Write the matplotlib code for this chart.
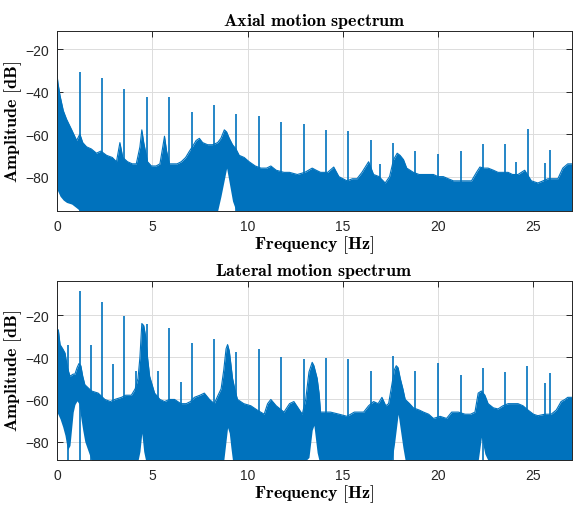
import numpy as np
import matplotlib.pyplot as plt

plt.rcParams['mathtext.fontset'] = 'cm'
plt.rcParams['font.family'] = ['Liberation Sans', 'DejaVu Sans']

blue = '#0072BD'

# axial spectrum: noise band (upper / lower edge) in dB
ax_freq = [0.0, 0.05, 0.16, 0.33, 0.5, 0.77, 1.03, 1.2, 1.35, 1.55, 1.8, 2.07, 2.3, 2.6, 2.9,
           3.12, 3.3, 3.45, 3.7, 3.95, 4.16, 4.35, 4.45, 4.55, 4.75, 4.95, 5.2, 5.4, 5.55, 5.64,
           5.75, 5.9, 6.08, 6.3, 6.52, 6.75, 6.95, 7.1, 7.3, 7.47, 7.64, 7.9, 8.17, 8.43, 8.6,
           8.78, 8.9, 9.04, 9.21, 9.39, 9.56, 9.82, 10.08, 10.4, 10.7, 11.0, 11.22, 11.5, 11.91,
           12.2, 12.61, 13.0, 13.39, 13.6, 13.83, 14.2, 14.52, 14.79, 15.0, 15.22, 15.5, 15.74,
           16.0, 16.35, 16.61, 16.9, 17.22, 17.45, 17.66, 17.85, 18.0, 18.18, 18.35, 18.7, 19.0,
           19.23, 19.5, 19.75, 20.0, 20.27, 20.53, 20.8, 21.06, 21.4, 21.75, 22.01, 22.19, 22.4,
           22.62, 22.9, 23.14, 23.4, 23.67, 23.9, 24.19, 24.54, 24.89, 25.23, 25.5, 25.76, 26.0,
           26.28, 26.54, 26.8, 27.0]
ax_upper = [-32, -36, -42, -49, -53, -58, -63, -60, -64, -66, -67, -69, -68, -70, -71,
            -73, -64, -71, -73, -74, -74, -66, -58, -64, -73, -75, -75, -74, -66, -61,
            -68, -74, -74, -74, -73, -71, -68, -66, -63, -62, -64, -65, -65, -64, -62,
            -58, -59, -62, -65, -67, -70, -71, -73, -75, -76, -76, -75, -77, -78,
            -78, -79, -78, -76, -77, -78, -78, -75.5, -80, -81, -82, -81, -81,
            -78, -73, -79, -80, -83, -80, -72, -69, -70, -72, -76, -78, -79,
            -79, -79, -79, -80, -80, -81, -82, -82, -82, -82, -78, -75.5, -76,
            -76, -77, -78, -78, -78, -79, -79, -77, -82, -83, -82, -81, -81,
            -81, -76, -74, -74]
ax_lower_freq = [0.0, 0.2, 0.45, 0.8, 1.2, 8.45, 8.9, 9.3, 27.0]
ax_lower = [-86, -90, -92, -93, -96, -96, -76, -96, -96]

# axial spectrum: narrow peaks
ax_peak_freq = [0.02, 1.20, 2.35, 3.54, 4.70, 5.90, 7.07, 8.24, 9.40, 10.59, 11.76, 12.96,
                14.12, 15.29, 16.46, 16.96, 17.64, 18.81, 20.01, 21.18, 22.35, 23.51, 24.07,
                24.71, 25.60, 25.88]
ax_peak_db = [-16, -30.6, -33.8, -38.8, -42.7, -42.7, -49.7, -46.3, -50.4, -51.3, -54.3, -55.2,
              -58.0, -58.6, -62.7, -74, -64.3, -67.9, -69.3, -67.9, -64.7, -64.7, -73,
              -57.4, -73.7, -67.4]

# lateral spectrum: noise band
lat_freq = [0.0, 0.07, 0.16, 0.3, 0.42, 0.55, 0.68, 0.85, 0.94, 1.05, 1.15, 1.25, 1.35, 1.46,
            1.81, 2.16, 2.51, 2.8, 3.03, 3.38, 3.6, 3.9, 4.1, 4.25, 4.35, 4.45, 4.55, 4.65,
            4.75, 4.86, 5.12, 5.4, 5.64, 5.9, 6.17, 6.5, 6.78, 7.0, 7.21, 7.5, 7.73, 8.0, 8.25,
            8.45, 8.61, 8.75, 8.87, 8.95, 9.04, 9.12, 9.21, 9.35, 9.47, 9.8, 10.17, 10.5, 10.87,
            11.05, 11.22, 11.5, 11.91, 12.2, 12.43, 12.65, 12.87, 13.05, 13.22, 13.39, 13.48,
            13.65, 13.75, 13.83, 14.1, 14.35, 14.8, 15.22, 15.6, 16.09, 16.35, 16.61, 16.85,
            17.05, 17.25, 17.4, 17.57, 17.7, 17.8, 17.9, 18.01, 18.15, 18.27, 18.5, 18.7, 19.0,
            19.23, 19.5, 19.75, 20.1, 20.44, 20.71, 21.06, 21.41, 21.7, 21.93, 22.1, 22.27,
            22.45, 22.62, 22.9, 23.14, 23.4, 23.67, 23.9, 24.19, 24.45, 24.71, 25.0, 25.23,
            25.6, 25.93, 26.2, 26.45, 26.65, 26.8, 27.0]
lat_upper = [-27, -27, -34, -36, -38, -45, -49, -48, -48, -45, -43, -44, -49, -53,
             -56, -57, -60, -61, -60, -59, -58, -58, -55, -50, -40, -24, -25, -30,
             -40, -49, -57, -60, -61, -60, -60, -62, -62, -61, -59, -58, -57, -60, -62,
             -58, -55, -46, -36, -34, -37, -43, -50, -56, -60, -62, -63, -65, -67,
             -62, -60, -63, -66, -62, -61, -64, -67, -60, -47, -42.4, -44,
             -50, -57, -66, -66, -66, -67, -68, -66, -66, -63, -61, -62,
             -59, -63, -62, -53, -46, -44, -45, -50, -55, -60, -62, -64, -65,
             -66, -67, -69, -68, -69, -66, -66, -67, -67, -66, -57, -56,
             -58, -62, -64, -64.5, -63, -62, -62, -62, -63, -65, -67, -67.7,
             -67, -67, -65, -61, -60, -59, -59]
lat_lower_freq = [0.0, 0.2, 0.4, 0.55, 0.6, 0.7, 0.85, 1.0, 1.15, 1.3, 1.5, 1.8,
                  4.3, 4.45, 4.6, 8.75, 8.98, 9.2, 13.2, 13.45, 13.7,
                  17.6, 17.9, 18.25, 22.1, 22.3, 22.5, 27.0]
lat_lower = [-66, -70, -76, -84, -89, -80, -66, -60, -62, -72, -82, -89,
             -89, -76, -89, -89, -71, -89, -89, -70, -89,
             -89, -67, -89, -89, -76, -89, -89]

# lateral spectrum: narrow peaks
lat_peak_freq = [0.02, 0.59, 1.18, 1.76, 2.35, 2.94, 3.54, 4.13, 4.70, 5.29, 5.90, 6.48, 7.07,
                 8.24, 9.40, 10.59, 11.76, 12.96, 14.12, 15.29, 16.46, 17.64, 18.81, 20.01,
                 21.18, 22.35, 23.51, 24.68, 25.63, 25.88]
lat_peak_db = [-10.9, -34, -8.8, -34, -13.7, -43.2, -20.3, -46.4, -24.3, -46.4, -26.3, -51.9, -33.3,
               -31.4, -37.4, -36.1, -39.8, -40.9, -40.5, -40.9, -46.4, -39.3, -46.4, -42.7,
               -48.4, -45.3, -46.9, -44.0, -52.3, -47.6]


def draw_spectrum(ax, freq, upper, lo_freq, lower, pk_freq, pk_db, ylim, title):
    low = np.interp(freq, lo_freq, lower)
    ax.fill_between(freq, low, upper, color=blue, lw=0)
    ax.plot(freq, upper, color=blue, lw=0.8)
    ax.vlines(pk_freq, ylim[0], pk_db, color=blue, lw=1.2)
    ax.set_xlim(0, 27)
    ax.set_ylim(*ylim)
    ax.set_xticks([0, 5, 10, 15, 20, 25])
    ax.set_yticks([-80, -60, -40, -20])
    ax.grid(True, color='#dcdcdc', lw=0.7)
    ax.set_axisbelow(True)
    ax.tick_params(direction='in', length=4, width=0.7, top=True, right=True,
                   labelsize=10, colors='#262626', pad=6)
    for s in ax.spines.values():
        s.set_color('#262626')
        s.set_linewidth(0.7)
    ax.set_title(title, fontsize=13, pad=4)
    ax.set_xlabel(r'$\mathbf{Frequency\ [Hz]}$', fontsize=13, labelpad=0)
    ax.set_ylabel(r'$\mathbf{Amplitude\ [dB]}$', fontsize=13, labelpad=1)


fig = plt.figure(figsize=(5.73, 5.10), dpi=100)
ax1 = fig.add_axes([0.0995, 0.585, 0.898, 0.3524])
ax2 = fig.add_axes([0.0995, 0.0961, 0.898, 0.3516])

draw_spectrum(ax1, ax_freq, ax_upper, ax_lower_freq, ax_lower, ax_peak_freq, ax_peak_db,
              (-96, -11.5), r'$\mathbf{Axial\ motion\ spectrum}$')
draw_spectrum(ax2, lat_freq, lat_upper, lat_lower_freq, lat_lower, lat_peak_freq, lat_peak_db,
              (-88.7, -3.7), r'$\mathbf{Lateral\ motion\ spectrum}$')

plt.savefig('out.png', dpi=100)
